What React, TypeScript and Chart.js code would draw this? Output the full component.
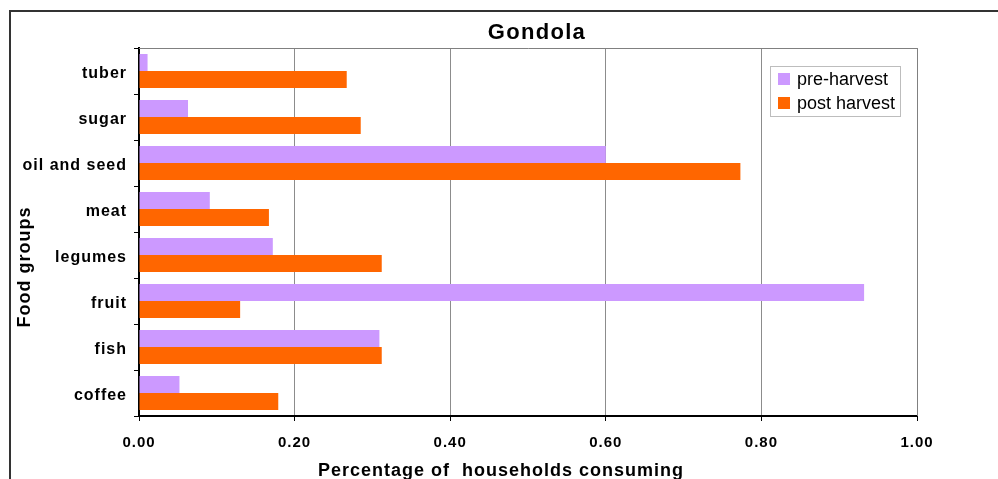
import React, { useEffect, useRef } from "react";
import { Chart, registerables } from "chart.js";

Chart.register(...registerables);

const chartTitle = "Gondola";
const xAxisTitle = "Percentage of  households consuming";
const yAxisTitle = "Food groups";
const categories = ["tuber", "sugar", "oil and seed", "meat", "legumes", "fruit", "fish", "coffee"];
const seriesNames = ["pre-harvest", "post harvest"];
const preHarvest = [0.011, 0.063, 0.6, 0.091, 0.172, 0.932, 0.309, 0.052];
const postHarvest = [0.267, 0.285, 0.773, 0.167, 0.312, 0.13, 0.312, 0.179];
const xMin = 0;
const xMax = 1;
const xStep = 0.2;

const FONT = "'Liberation Sans', Arial, Helvetica, sans-serif";
const PURPLE = "#CC99FF";
const ORANGE = "#FF6600";

const decorPlugin = {
  id: "decor",
  beforeLayout(chart: any) {
    chart.ctx.letterSpacing = "1px";
  },
  beforeDraw(chart: any) {
    chart.ctx.letterSpacing = "1px";
  },
  afterDraw(chart: any) {
    const ctx = chart.ctx as CanvasRenderingContext2D;
    const a = chart.chartArea;
    ctx.save();
    // plot area top/right border
    ctx.strokeStyle = "#808080";
    ctx.lineWidth = 1;
    ctx.beginPath();
    ctx.moveTo(a.left, a.top + 0.5);
    ctx.lineTo(a.right + 0.5, a.top + 0.5);
    ctx.lineTo(a.right + 0.5, a.bottom);
    ctx.stroke();

    ctx.fillStyle = "#000";
    // title
    ctx.font = `bold 22px ${FONT}`;
    (ctx as any).letterSpacing = "1.3px";
    ctx.textAlign = "center";
    ctx.textBaseline = "alphabetic";
    ctx.fillText(chartTitle, 537, 39);

    // x title
    ctx.font = `bold 18px ${FONT}`;
    (ctx as any).letterSpacing = "1px";
    ctx.fillText(xAxisTitle, 501, 476);

    // y title
    ctx.save();
    ctx.translate(30, 267);
    ctx.rotate(-Math.PI / 2);
    ctx.fillText(yAxisTitle, 0, 0);
    ctx.restore();

    // legend
    (ctx as any).letterSpacing = "0px";
    const lx = 770, ly = 66, lw = 130, lh = 50;
    ctx.fillStyle = "#fff";
    ctx.fillRect(lx, ly, lw, lh);
    ctx.strokeStyle = "#bdbdbd";
    ctx.strokeRect(lx + 0.5, ly + 0.5, lw, lh);
    const colors = [PURPLE, ORANGE];
    ctx.font = `18px ${FONT}`;
    ctx.textAlign = "left";
    seriesNames.forEach((name, i) => {
      const y = ly + 7 + i * 24;
      ctx.fillStyle = colors[i];
      ctx.fillRect(lx + 8, y, 12, 12);
      ctx.fillStyle = "#000";
      ctx.fillText(name, lx + 27, y + 12);
    });
    ctx.restore();
  },
};

export default function App() {
  const ref = useRef<HTMLCanvasElement | null>(null);

  useEffect(() => {
    if (!ref.current) return;
    const chart = new Chart(ref.current, {
      type: "bar",
      data: {
        labels: categories,
        datasets: [
          {
            label: seriesNames[0],
            data: preHarvest,
            backgroundColor: PURPLE,
            borderWidth: 0,
            categoryPercentage: 0.74,
            barPercentage: 1,
          },
          {
            label: seriesNames[1],
            data: postHarvest,
            backgroundColor: ORANGE,
            borderWidth: 0,
            categoryPercentage: 0.74,
            barPercentage: 1,
          },
        ],
      },
      options: {
        indexAxis: "y",
        responsive: false,
        animation: false,
        devicePixelRatio: 1,
        layout: { padding: { top: 48, right: 81, left: 0, bottom: 0 } },
        plugins: {
          legend: { display: false },
          title: { display: false },
          tooltip: { enabled: false },
        },
        scales: {
          x: {
            type: "linear",
            min: xMin,
            max: xMax,
            position: "bottom",
            afterFit(s: any) {
              s.height = 63;
            },
            ticks: {
              stepSize: xStep,
              callback: (v: any) => Number(v).toFixed(2),
              font: { family: FONT, size: 15, weight: "bold" },
              color: "#000",
              padding: 13,
              maxRotation: 0,
            },
            grid: {
              color: "#8c8c8c",
              tickColor: "#000",
              tickLength: 5,
              drawTicks: true,
            },
            border: { display: true, color: "#000", width: 2 },
          },
          y: {
            type: "category",
            afterFit(s: any) {
              s.width = 139;
            },
            ticks: {
              font: { family: FONT, size: 16, weight: "bold" },
              color: "#000",
              padding: 7,
              labelOffset: 3,
            },
            grid: {
              offset: true,
              drawOnChartArea: false,
              drawTicks: true,
              tickLength: 5,
              tickColor: "#000",
            },
            border: { display: true, color: "#000", width: 2 },
          },
        },
      },
      plugins: [decorPlugin],
    } as any);
    return () => chart.destroy();
  }, []);

  return (
    <div>
      <div
        style={{
          position: "absolute",
          left: 9,
          top: 10,
          width: 1000,
          height: 500,
          borderLeft: "2px solid #333",
          borderTop: "2px solid #333",
          boxSizing: "border-box",
        }}
      />
      <canvas
        ref={ref}
        width={998}
        height={479}
        style={{ position: "absolute", left: 0, top: 0, width: 998, height: 479, display: "block" }}
      />
    </div>
  );
}
